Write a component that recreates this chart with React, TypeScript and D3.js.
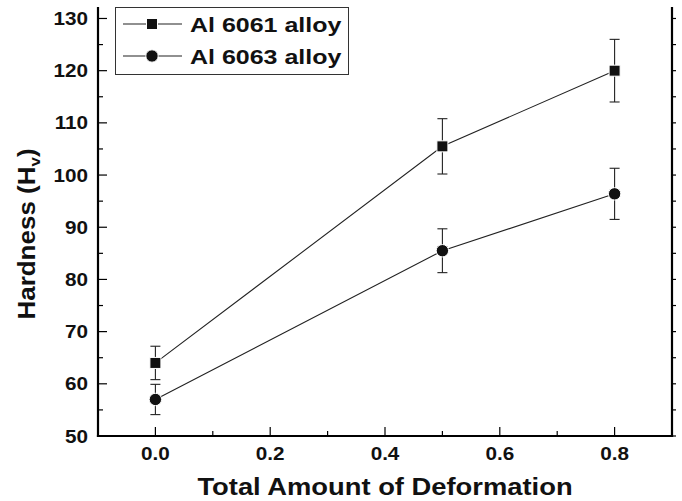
import React from 'react';
import * as d3 from 'd3';

const deformation = [0, 0.5, 0.8];
const al6061 = [64.0, 105.5, 120.0];
const err6061 = [3.2, 5.3, 6.0];
const al6063 = [57.0, 85.5, 96.4];
const err6063 = [2.9, 4.2, 4.9];
const seriesNames = ['Al 6061 alloy', 'Al 6063 alloy'];
const xTicks = [0, 0.2, 0.4, 0.6, 0.8];
const yTicks = [50, 60, 70, 80, 90, 100, 110, 120, 130];

const W = 682;
const H = 501;
const FONT = '"Liberation Sans", Arial, Helvetica, sans-serif';
// the reference type is set a little wider than Arial
const STRETCH = 1.15;

const App: React.FC = () => {
    const left = 98, right = 672, top = 7, bottom = 436;

    const x = d3.scaleLinear().domain([-0.1, 0.9]).range([left, right]);
    const y = d3.scaleLinear().domain([50, 132.2]).range([bottom, top]);

    const xMinor = d3.range(-0.1, 0.91, 0.1).filter(v => !xTicks.some(t => Math.abs(t - v) < 1e-6));
    const yMinor = d3.range(55, 132, 10);
    const yRight = d3.range(50, 132, 5);

    const line = d3.line<number>()
        .x((_, i) => x(deformation[i]))
        .y(d => y(d));

    const series = [
        { vals: al6061, errs: err6061, shape: 'square' },
        { vals: al6063, errs: err6063, shape: 'circle' },
    ];

    const marker = (shape: string, cx: number, cy: number, key: string) =>
        shape === 'square'
            ? <rect key={key} x={cx - 5.5} y={cy - 5.5} width={11} height={11} fill="#111" stroke="#fff" strokeWidth={1} />
            : <circle key={key} cx={cx} cy={cy} r={6.2} fill="#111" stroke="#fff" strokeWidth={1} />;

    return (
        <svg width={W} height={H} style={{ position: 'absolute', left: 0, top: 0, background: '#fff' }}
            fontFamily={FONT}>
            {/* data lines */}
            {series.map((s, si) => (
                <path key={'l' + si} d={line(s.vals) || ''} fill="none" stroke="#222" strokeWidth={1.1} />
            ))}
            {/* error bars */}
            {series.map((s, si) => s.vals.map((v, i) => {
                const cx = x(deformation[i]);
                const y1 = y(v + s.errs[i]);
                const y2 = y(v - s.errs[i]);
                return (
                    <g key={`e${si}-${i}`} stroke="#222" strokeWidth={1.1}>
                        <line x1={cx} x2={cx} y1={y1} y2={y2} />
                        <line x1={cx - 5} x2={cx + 5} y1={y1} y2={y1} />
                        <line x1={cx - 5} x2={cx + 5} y1={y2} y2={y2} />
                    </g>
                );
            }))}
            {/* markers */}
            {series.map((s, si) => s.vals.map((v, i) =>
                marker(s.shape, x(deformation[i]), y(v), `m${si}-${i}`)))}

            {/* axes */}
            <g stroke="#000" strokeWidth={1.2}>
                {xTicks.map(t => <line key={'xt' + t} x1={x(t)} x2={x(t)} y1={bottom} y2={bottom - 9} />)}
                {xMinor.map(t => <line key={'xm' + t} x1={x(t)} x2={x(t)} y1={bottom} y2={bottom - 5} />)}
                {yTicks.map(t => <line key={'yt' + t} x1={left} x2={left + 9} y1={y(t)} y2={y(t)} />)}
                {yMinor.map(t => <line key={'ym' + t} x1={left} x2={left + 5} y1={y(t)} y2={y(t)} />)}
                {yRight.map(t => <line key={'yr' + t} x1={right} x2={right + 4} y1={y(t)} y2={y(t)} />)}
            </g>
            <g stroke="#000" strokeWidth={2.2} fill="none">
                <line x1={left} x2={left} y1={top} y2={bottom + 1.1} />
                <line x1={right} x2={right} y1={top} y2={bottom + 1.1} />
                <line x1={left - 1.1} x2={right + 1.1} y1={bottom} y2={bottom} />
            </g>

            {/* tick labels */}
            <g fontSize={18} fontWeight="bold" fill="#111">
                {xTicks.map(t => (
                    <text key={'xl' + t} transform={`translate(${x(t)},460) scale(${STRETCH},1)`} textAnchor="middle">
                        {t.toFixed(1)}
                    </text>
                ))}
                {yTicks.map(t => (
                    <text key={'yl' + t} transform={`translate(${left - 10},${y(t) + 6.5}) scale(${STRETCH},1)`} textAnchor="end">
                        {t}
                    </text>
                ))}
            </g>

            {/* axis titles */}
            <text transform={`translate(${(left + right) / 2},495) scale(1.14,1)`} textAnchor="middle"
                fontSize={24} fontWeight="bold" fill="#111">
                Total Amount of Deformation
            </text>
            <text transform="translate(35,234) rotate(-90) scale(1.13,1)" textAnchor="middle" fontSize={23} fontWeight="bold" fill="#111">
                Hardness (H<tspan dy={5} fontSize={15}>v</tspan><tspan dy={-5}>)</tspan>
            </text>

            {/* legend */}
            <rect x={115.5} y={7.5} width={233} height={67} fill="#fff" stroke="#333" strokeWidth={1} />
            {series.map((s, si) => {
                const ly = 24 + si * 32;
                return (
                    <g key={'lg' + si}>
                        <line x1={123} x2={182} y1={ly} y2={ly} stroke="#222" strokeWidth={1.1} />
                        {marker(s.shape, 152, ly, 'lm' + si)}
                        <text transform={`translate(190,${ly + 7.5}) scale(1.19,1)`} fontSize={21} fontWeight="bold" fill="#111">
                            {seriesNames[si]}
                        </text>
                    </g>
                );
            })}
        </svg>
    );
};

export default App;
